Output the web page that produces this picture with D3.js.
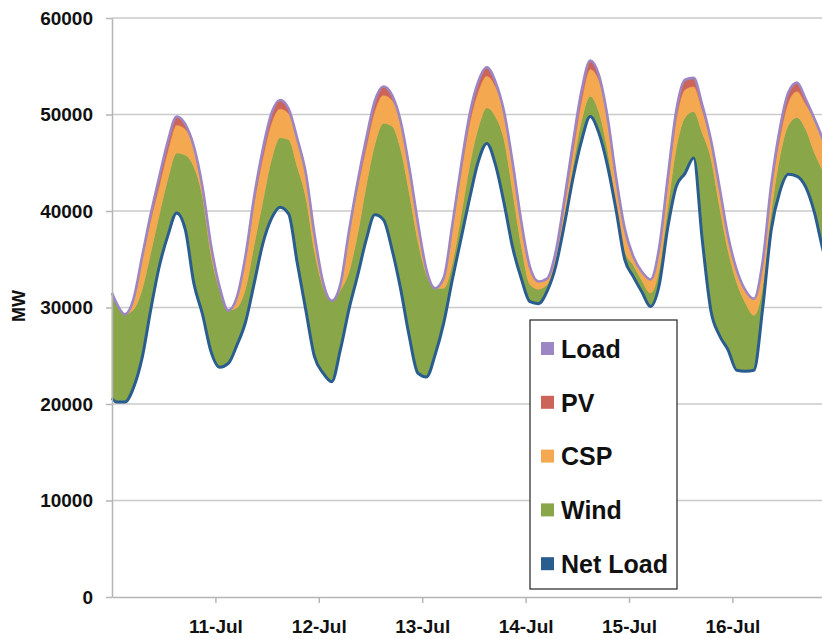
<!DOCTYPE html>
<html>
<head>
<meta charset="utf-8">
<script src="https://cdn.jsdelivr.net/npm/d3@7"></script>
<style>
  body { margin: 0; background: #fff; }
  svg { display: block; }
  text { font-family: "Liberation Sans", Arial, Helvetica, sans-serif; font-weight: bold; fill: #111; }
</style>
</head>
<body>
<svg id="chart" width="822" height="639"></svg>
<script>
// Hour index from the start of 10-Jul: the first hour, then every odd hour
const hours = [0].concat(d3.range(1, 168, 2));

// MW values at each hour
const netLoad = [
  20600, 20200, 20200, 21700, 24800, 29800, 34300, 37500, 39800, 38100, 32500, 29300, 25400,
  23800, 24200, 26100, 28500, 32500, 36600, 39200, 40400, 39700, 34600, 29700, 24900,
  23200, 22300, 25600, 29800, 33300, 37000, 39600, 39100, 36000, 31900, 27000, 23200,
  22800, 25100, 28400, 32900, 37100, 41300, 45100, 47000, 44800, 40800, 36200, 33000,
  30600, 30400, 31700, 34300, 38600, 43400, 47300, 49800, 48100, 44700, 40100, 35000,
  33200, 31600, 30100, 32300, 38300, 42600, 43900, 45500, 37000, 29700, 27100, 25600,
  23500, 23400, 23500, 29800, 38000, 42000, 43800, 43600, 42500, 39900, 36000, 33000
];
const wind = [
  10900, 10300, 9100, 8100, 7100, 5900, 5400, 5900, 6200, 7700, 12100, 12200, 10000,
  8000, 5500, 3900, 3500, 4000, 4400, 6100, 7200, 7700, 10000, 11700, 10900,
  8900, 8400, 6200, 3900, 4300, 5600, 7300, 10000, 12800, 14500, 14900, 13700,
  10600, 6900, 3600, 1700, 2400, 3400, 3500, 3700, 5000, 6600, 5800, 3400,
  1800, 1500, 700, 400, 600, 1300, 2100, 2100, 2200, 1700, 800, 900,
  1200, 1200, 1400, 1700, 2100, 4000, 5800, 4800, 11100, 15800, 13400, 10300,
  9100, 7100, 5700, 2300, 1900, 3600, 5100, 6100, 6000, 6200, 8100, 8500
];
const csp = [
  0, 0, 0, 1100, 3200, 3400, 3000, 2900, 2900, 2700, 2000, 1000, 1000,
  300, 0, 1100, 3200, 4400, 4500, 3800, 3000, 2700, 2800, 2500, 1800,
  500, 0, 600, 4000, 4800, 4000, 3500, 2900, 2700, 2800, 2600, 1900,
  500, 0, 1100, 3800, 4500, 4400, 3800, 3300, 3100, 2800, 3000, 2500,
  1800, 800, 600, 900, 1400, 1500, 2100, 2800, 3300, 3300, 2600, 2300,
  900, 900, 1400, 2000, 2500, 3000, 2900, 2600, 2400, 1800, 2000, 1500,
  1300, 1300, 1700, 2400, 2200, 2000, 2400, 2700, 2600, 3400, 3300, 3000
];
const pv = [
  0, 0, 0, 0, 200, 600, 900, 1000, 900, 500, 100, 0, 0,
  0, 0, 0, 200, 600, 900, 1000, 900, 500, 100, 0, 0,
  0, 0, 0, 200, 600, 900, 1000, 900, 500, 100, 0, 0,
  0, 0, 0, 200, 600, 900, 1000, 900, 500, 100, 0, 0,
  0, 0, 0, 200, 600, 900, 1000, 900, 500, 100, 0, 0,
  0, 0, 0, 200, 600, 900, 1000, 900, 500, 100, 0, 0,
  0, 0, 0, 200, 600, 900, 1000, 900, 500, 100, 0, 0
];

const dayLabels = ["11-Jul", "12-Jul", "13-Jul", "14-Jul", "15-Jul", "16-Jul"];
const dayHours = [24, 48, 72, 96, 120, 144];
const yTicks = [0, 10000, 20000, 30000, 40000, 50000, 60000];

const legendItems = ["Load", "PV", "CSP", "Wind", "Net Load"];
const colors = {
  "Load": "#9d86c4",
  "PV": "#cc6459",
  "CSP": "#f4a84f",
  "Wind": "#89a648",
  "Net Load": "#2a5d8f"
};

const W = 822, H = 639;
const x = d3.scaleLinear().domain([0, 168]).range([112, 835.8]);
const y = d3.scaleLinear().domain([0, 60000]).range([597, 18]);

const svg = d3.select("#chart");

// horizontal gridlines
svg.append("g")
  .selectAll("line")
  .data(yTicks.filter(d => d > 0))
  .join("line")
  .attr("x1", 112).attr("x2", W)
  .attr("y1", d => y(d)).attr("y2", d => y(d))
  .attr("stroke", "#cacaca").attr("stroke-width", 1.5);

// stacked components on top of the net load
const rows = hours.map((h, i) => ({ h, netLoad: netLoad[i], wind: wind[i], csp: csp[i], pv: pv[i] }));
const keys = ["netLoad", "wind", "csp", "pv"];
const stacked = d3.stack().keys(keys)(rows);

const curve = d3.curveMonotoneX;
const area = d3.area()
  .x(d => x(d.data.h))
  .y0(d => y(d[0]))
  .y1(d => y(d[1]))
  .curve(curve);

const fills = { wind: colors["Wind"], csp: colors["CSP"], pv: colors["PV"] };
const plot = svg.append("g");
plot.selectAll("path.layer")
  .data(stacked.filter(s => s.key !== "netLoad"))
  .join("path")
  .attr("class", "layer")
  .attr("d", area)
  .attr("fill", s => fills[s.key])
  .attr("stroke", s => fills[s.key])
  .attr("stroke-width", 0.6);

const line = d3.line()
  .x(d => x(d.data.h))
  .y(d => y(d[1]))
  .curve(curve);

// net load (top of first layer) and total load (top of last layer)
plot.append("path")
  .attr("d", line(stacked[0]))
  .attr("fill", "none")
  .attr("stroke", colors["Net Load"])
  .attr("stroke-width", 3)
  .attr("stroke-linejoin", "round");

plot.append("path")
  .attr("d", line(stacked[stacked.length - 1]))
  .attr("fill", "none")
  .attr("stroke", colors["Load"])
  .attr("stroke-width", 2.6)
  .attr("stroke-linejoin", "round");

// y axis
const yAxis = svg.append("g")
  .attr("transform", "translate(112,0)")
  .call(d3.axisLeft(y).tickValues(yTicks).tickFormat(d3.format("d")).tickSize(6).tickSizeOuter(0).tickPadding(13));
yAxis.select(".domain").attr("stroke", "#b5b5b5").attr("stroke-width", 1.5);
yAxis.selectAll(".tick line").attr("stroke", "#b5b5b5").attr("stroke-width", 1.5);
yAxis.selectAll(".tick text").attr("font-size", 19).attr("fill", "#111");

// x axis
const xAxis = svg.append("g")
  .attr("transform", "translate(0,597)")
  .call(d3.axisBottom(x).tickValues(dayHours).tickFormat((d, i) => dayLabels[i]).tickSize(6).tickSizeOuter(0).tickPadding(17));
xAxis.select(".domain").attr("stroke", "#b5b5b5").attr("stroke-width", 1.5);
xAxis.selectAll(".tick line").attr("stroke", "#b5b5b5").attr("stroke-width", 1.5);
xAxis.selectAll(".tick text").attr("font-size", 19).attr("fill", "#111");

// y axis title
svg.append("text")
  .attr("transform", "translate(25,306) rotate(-90)")
  .attr("text-anchor", "middle")
  .style("font-size", "18px")
  .text("MW");

// legend
const lg = svg.append("g").attr("transform", "translate(530,320)");
lg.append("rect")
  .attr("width", 147).attr("height", 269)
  .attr("fill", "#fff").attr("stroke", "#222").attr("stroke-width", 1.2);
const item = lg.selectAll("g.item")
  .data(legendItems)
  .join("g")
  .attr("class", "item")
  .attr("transform", (d, i) => `translate(0,${29 + i * 53.8})`);
item.append("rect")
  .attr("x", 11).attr("y", -7).attr("width", 13).attr("height", 13)
  .attr("fill", d => colors[d]);
item.append("text")
  .attr("x", 31).attr("y", 0)
  .attr("dy", "0.35em")
  .attr("font-size", 25)
  .text(d => d);
</script>
</body>
</html>
